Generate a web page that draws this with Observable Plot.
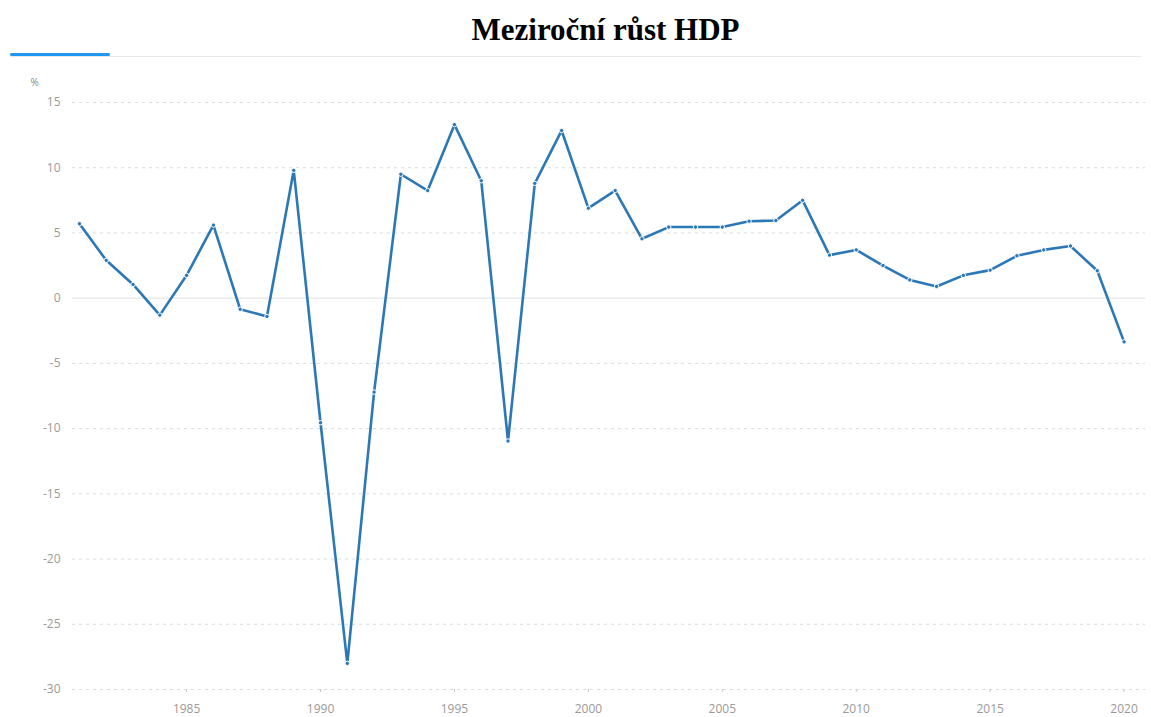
<!DOCTYPE html>
<html>
<head>
<meta charset="utf-8">
<script src="https://cdn.jsdelivr.net/npm/d3@7"></script>
<script src="https://cdn.jsdelivr.net/npm/@observablehq/plot@0.6"></script>
<style>
  html, body { margin: 0; padding: 0; background: #fff; overflow: hidden; }
  #header { position: relative; width: 1151px; height: 56px; }
  #title { position: absolute; left: 30px; width: 1151px; top: 11px; text-align: center;
    font-family: "Liberation Serif", "Times New Roman", serif; font-weight: bold; font-size: 31px; color: #000; line-height: 38px; }
  #rule { position: absolute; left: 10px; top: 56px; width: 1131px; height: 1px; background: #e6e9ea; }
  #bar { position: absolute; left: 10px; top: 53px; width: 100px; height: 3px; background: #2196f3; border-radius: 1.5px; }
  #chart svg { display: block; }
</style>
</head>
<body>
<div id="header">
  <div id="title">Meziroční růst HDP</div>
  <div id="rule"></div>
  <div id="bar"></div>
</div>
<div id="chart"></div>
<script>
const years = d3.range(1981, 2021);
const growth = [5.7, 2.9, 1.05, -1.3, 1.75, 5.6, -0.85, -1.4, 9.8, -9.55,
  -28.0, -7.2, 9.5, 8.25, 13.3, 9.0, -10.95, 8.8, 12.85, 6.9,
  8.25, 4.55, 5.45, 5.45, 5.45, 5.9, 5.95, 7.5, 3.3, 3.7,
  2.5, 1.4, 0.9, 1.75, 2.15, 3.25, 3.7, 4.0, 2.1, -3.35];
const yTicks = [15, 10, 5, 0, -5, -10, -15, -20, -25, -30];
const xTicks = [1985, 1990, 1995, 2000, 2005, 2010, 2015, 2020];
const unitLabel = "%";

const data = years.map((year, i) => ({year, value: growth[i]}));
const gridTicks = yTicks.filter(d => d !== 0);

const plot = Plot.plot({
  width: 1151,
  height: 661,
  marginLeft: 72,
  marginRight: 6,
  marginTop: 46,
  marginBottom: 28,
  style: {fontFamily: "'Open Sans', sans-serif", fontSize: "12px", color: "#9a9a9a", background: "#fff"},
  x: {domain: [1980.74, 2020.8], axis: null},
  y: {domain: [-30, 15], axis: null},
  marks: [
    Plot.ruleY(gridTicks, {stroke: "#dcdcdc", strokeWidth: 1, strokeDasharray: "3,4"}),
    Plot.ruleY([0], {stroke: "#ebebeb", strokeWidth: 1.5}),
    Plot.axisY(yTicks, {tickSize: 0, tickPadding: 12, fill: "#9a9a9a", fontSize: 12, label: null, tickFormat: d => String(d)}),
    Plot.axisX(xTicks, {tickSize: 3, tickPadding: 12, stroke: "#c8c8c8", fill: "#9a9a9a", fontSize: 12, label: null, tickFormat: d => String(d)}),
    Plot.text([unitLabel], {frameAnchor: "top-left", dx: -42, dy: -24, fill: "#8a8a8a", fontSize: 10, textAnchor: "start"}),
    Plot.line(data, {x: "year", y: "value", stroke: "#2c78b7", strokeWidth: 2.6, strokeLinejoin: "round"}),
    Plot.dot(data, {x: "year", y: "value", r: 2.2, fill: "#2c78b7", stroke: "#fff", strokeWidth: 1})
  ]
});
document.getElementById("chart").appendChild(plot);
</script>
</body>
</html>
